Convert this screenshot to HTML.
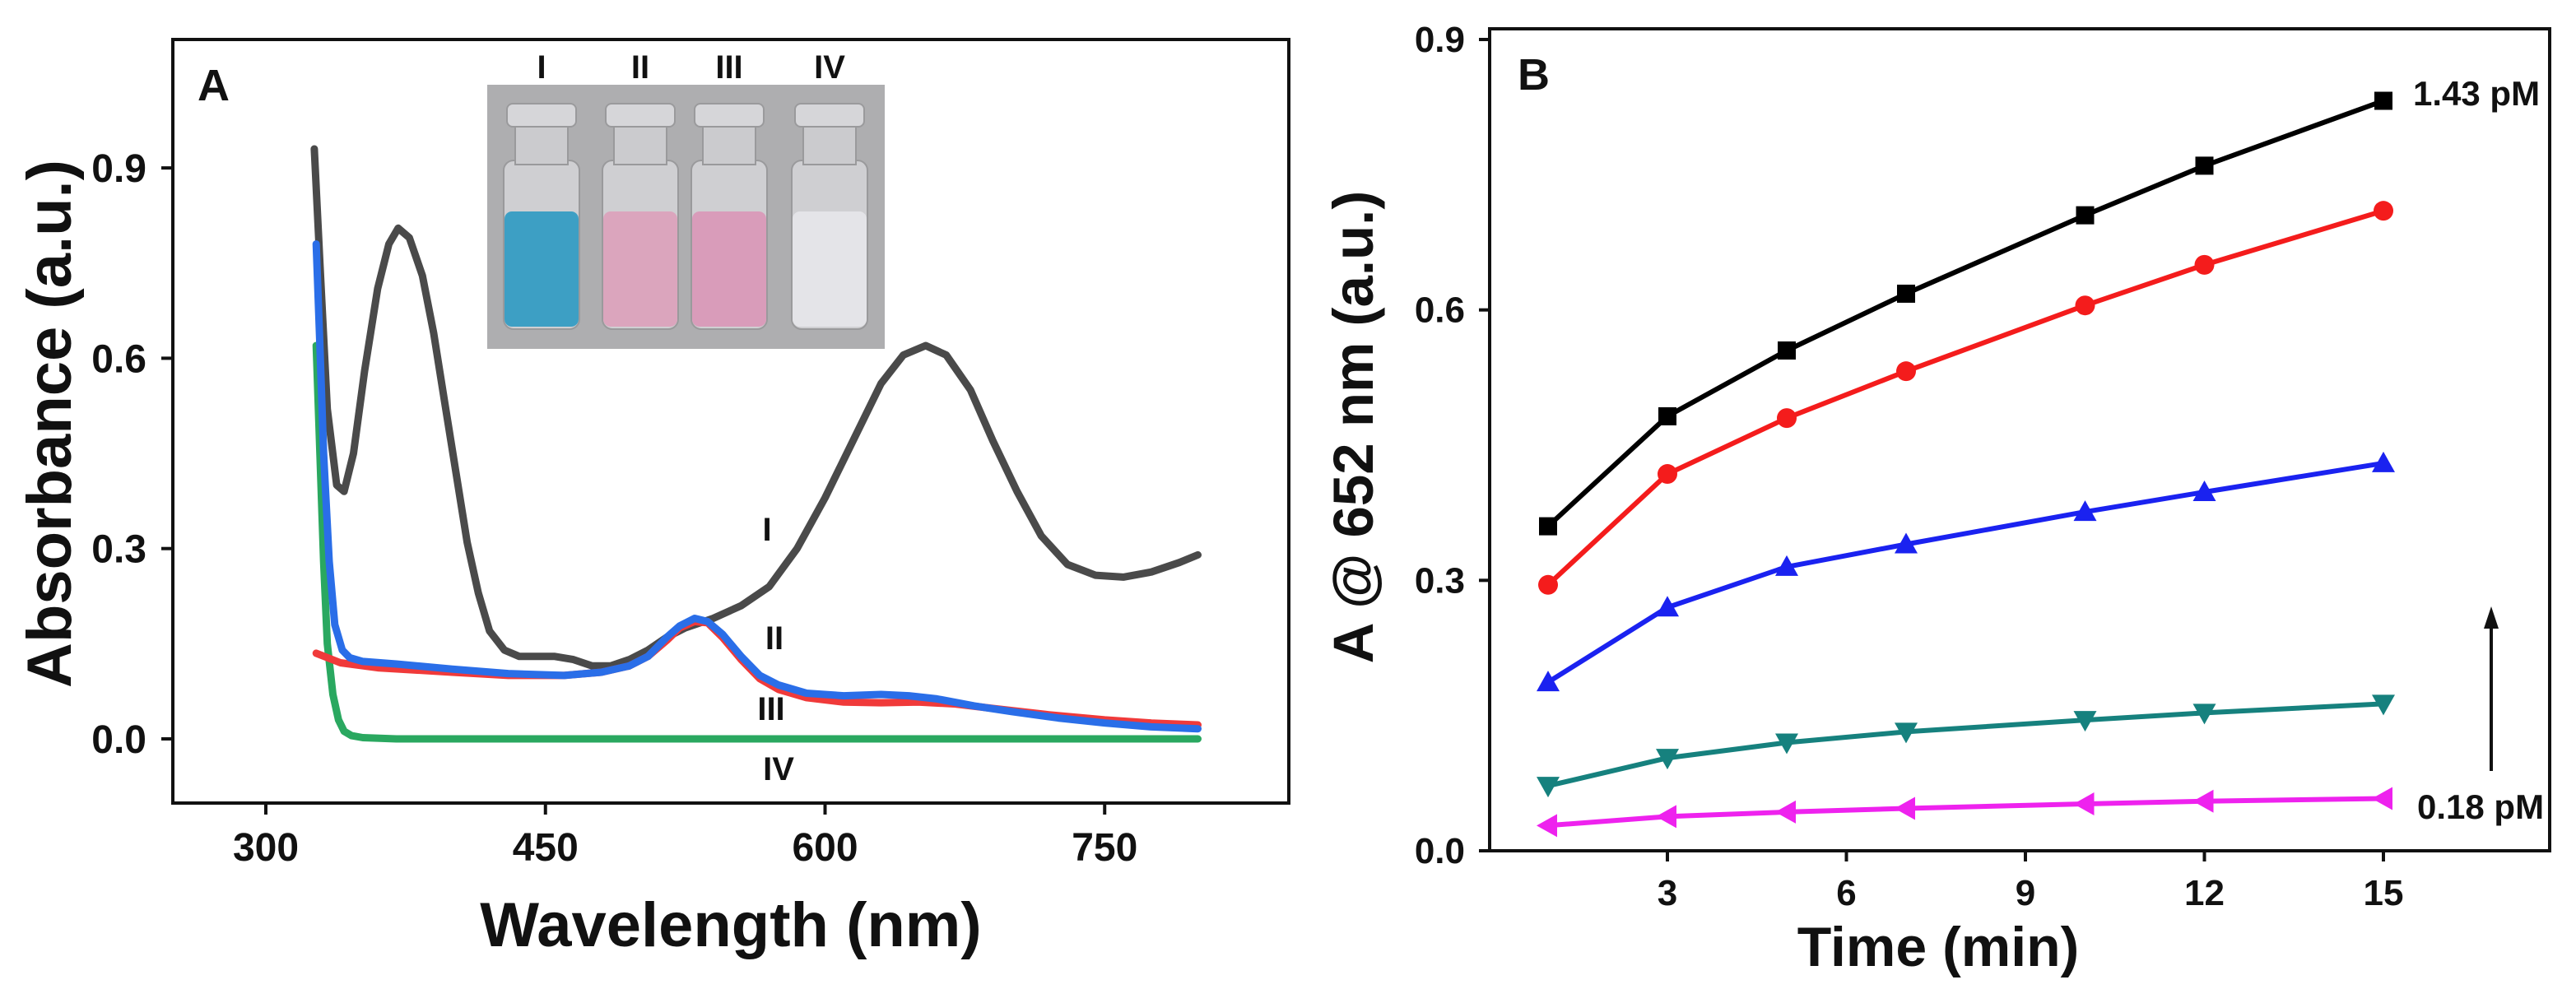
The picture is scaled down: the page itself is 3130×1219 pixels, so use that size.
<!DOCTYPE html>
<html><head><meta charset="utf-8"><style>
html,body{margin:0;padding:0;background:#fff;overflow:hidden}
svg{display:block}
text{font-family:"Liberation Sans",sans-serif;font-weight:bold;fill:#111}
</style></head><body>
<svg id="fig" width="3130" height="1219" viewBox="0 0 3130 1219" xmlns="http://www.w3.org/2000/svg">
<rect width="3130" height="1219" fill="#fff"/>
<g id="pa"></g>
<g id="pb"></g>
</svg>
<script>
// Panel A data
const aTicksX = [300, 450, 600, 750];
const aTicksY = [0.0, 0.3, 0.6, 0.9];
const wlI = [326,329,333,338,342,347,353,360,366,371,377,384,390,396,402,408,414,420,428,436,445,455,465,475,485,495,505,515,525,540,555,570,585,600,615,630,642,654,665,678,690,703,716,730,745,760,775,790,800];
const absI = [0.93,0.75,0.52,0.40,0.39,0.45,0.58,0.71,0.78,0.805,0.79,0.73,0.64,0.53,0.42,0.31,0.23,0.17,0.14,0.13,0.13,0.13,0.125,0.115,0.115,0.125,0.14,0.16,0.175,0.19,0.21,0.24,0.30,0.38,0.47,0.56,0.605,0.62,0.605,0.55,0.47,0.39,0.32,0.275,0.258,0.255,0.263,0.278,0.29];
const wlII = [327,329,331,334,337,341,345,352,370,400,430,460,480,495,505,515,522,530,537,545,555,565,575,590,610,630,645,660,680,700,725,750,775,800];
const absII = [0.78,0.62,0.45,0.28,0.18,0.14,0.128,0.122,0.118,0.11,0.103,0.10,0.105,0.115,0.13,0.16,0.178,0.19,0.185,0.165,0.13,0.10,0.085,0.072,0.068,0.07,0.068,0.063,0.052,0.043,0.033,0.025,0.019,0.016];
const wlIII = [327,340,360,400,430,460,480,495,505,515,522,530,537,545,555,565,575,590,610,630,650,670,690,720,750,775,800];
const absIII = [0.135,0.12,0.112,0.105,0.10,0.10,0.105,0.115,0.13,0.155,0.175,0.185,0.183,0.16,0.125,0.095,0.078,0.065,0.058,0.057,0.058,0.055,0.048,0.038,0.03,0.025,0.022];
const wlIV = [327,329,331,333,336,339,342,346,352,370,450,600,800];
const absIV = [0.62,0.45,0.28,0.15,0.07,0.03,0.012,0.005,0.002,0.0,0.0,0.0,0.0];

// Panel B data
const timeMin = [1, 3, 5, 7, 10, 12, 15];
const bTicksX = [3, 6, 9, 12, 15];
const bTicksY = [0.0, 0.3, 0.6, 0.9];
const s143 = [0.36, 0.482, 0.555, 0.618, 0.705, 0.76, 0.832];
const sRed = [0.295, 0.418, 0.48, 0.532, 0.605, 0.65, 0.71];
const sBlue = [0.187, 0.27, 0.315, 0.34, 0.376, 0.398, 0.43];
const sTeal = [0.072, 0.103, 0.12, 0.132, 0.145, 0.153, 0.163];
const s018 = [0.028, 0.038, 0.043, 0.047, 0.052, 0.055, 0.058];

const NS = "http://www.w3.org/2000/svg";
function mk(parent, tag, attrs, txt){
  const e = document.createElementNS(NS, tag);
  for (const k in attrs) e.setAttribute(k, attrs[k]);
  if (txt !== undefined) e.textContent = txt;
  parent.appendChild(e); return e;
}

// ---------- Panel A ----------
const pa = document.getElementById('pa');
const aL=210,aT=48,aR=1566,aB=976;
const ax = v => 323 + (v-300)*2.265;
const ay = v => 898 - v*231.3/0.3;

function aLine(xs, ys, color, name){
  let d = '';
  xs.forEach((x,i)=>{ d += (i?'L':'M') + ax(x).toFixed(1) + ',' + ay(ys[i]).toFixed(1); });
  const p = mk(pa,'path',{d:d,fill:'none',stroke:color,'stroke-width':9,'stroke-linejoin':'round','stroke-linecap':'round'});
  
  
}
aLine(wlI, absI, '#4a4a4a', 'curve-i');
aLine(wlIV, absIV, '#2aa860', 'curve-iv');
aLine(wlIII, absIII, '#f03a3a', 'curve-iii');
aLine(wlII, absII, '#2a6ee8', 'curve-ii');

let fr = mk(pa,'rect',{x:aL,y:aT,width:aR-aL,height:aB-aT,fill:'none',stroke:'#111','stroke-width':4});
 
aTicksX.forEach(v=>{
  mk(pa,'line',{x1:ax(v),x2:ax(v),y1:aB,y2:aB+14,stroke:'#111','stroke-width':4});
  const t = mk(pa,'text',{x:ax(v),y:1046,'font-size':48,'text-anchor':'middle'},String(v));
   
});
aTicksY.forEach(v=>{
  mk(pa,'line',{x1:aL-14,x2:aL,y1:ay(v),y2:ay(v),stroke:'#111','stroke-width':4});
  const t = mk(pa,'text',{x:178,y:ay(v)+17,'font-size':48,'text-anchor':'end'},v.toFixed(1));
   
});
let t;
t = mk(pa,'text',{x:888,y:1150,'font-size':76,'text-anchor':'middle'},'Wavelength (nm)');
 
t = mk(pa,'text',{x:0,y:0,'font-size':76,'text-anchor':'middle',transform:'translate(86,515) rotate(-90)'},'Absorbance (a.u.)');
 
t = mk(pa,'text',{x:240,y:122,'font-size':54},'A');
 
[['I',932,657],['II',941,789],['III',937,875],['IV',946,948]].forEach(c=>{
  const e = mk(pa,'text',{x:c[1],y:c[2],'text-anchor':'middle','font-size':40},c[0]);
   
});

// inset photo
const ins = mk(pa,'g',{});
 
mk(ins,'rect',{x:592,y:103,width:483,height:321,fill:'#aeaeb0'});
const vials = [[658,'#3d9fc4','I'],[778,'#dba5bd','II'],[886,'#d99cba','III'],[1008,'#e4e4e8','IV']];
vials.forEach(v=>{
  const cx=v[0];
  const g = mk(ins,'g',{});
   
  mk(g,'rect',{x:cx-46,y:195,width:92,height:205,rx:12,fill:'#cfcfd2',stroke:'#9a9a9c','stroke-width':2});
  mk(g,'rect',{x:cx-32,y:148,width:64,height:52,fill:'#cbcbce',stroke:'#9a9a9c','stroke-width':2});
  mk(g,'rect',{x:cx-42,y:126,width:84,height:28,rx:7,fill:'#d6d6d9',stroke:'#9a9a9c','stroke-width':2});
  mk(g,'rect',{x:cx-45,y:257,width:90,height:140,rx:9,fill:v[1]});
  const lb = mk(pa,'text',{x:cx,y:95,'text-anchor':'middle','font-size':40},v[2]);
   
});

// ---------- Panel B ----------
const pb = document.getElementById('pb');
const bL=1810,bT=35,bR=3098,bB=1034;
const bx = v => 2026 + (v-3)*72.5;
const by = v => 1034 - v*986/0.9;
fr = mk(pb,'rect',{x:bL,y:bT,width:bR-bL,height:bB-bT,fill:'none',stroke:'#111','stroke-width':4});
 
bTicksX.forEach(v=>{
  mk(pb,'line',{x1:bx(v),x2:bx(v),y1:bB,y2:bB+13,stroke:'#111','stroke-width':4});
  const e = mk(pb,'text',{x:bx(v),y:1100,'font-size':44,'text-anchor':'middle'},String(v));
   
});
bTicksY.forEach(v=>{
  mk(pb,'line',{x1:bL-13,x2:bL,y1:by(v),y2:by(v),stroke:'#111','stroke-width':4});
  const e = mk(pb,'text',{x:1780,y:by(v)+15,'font-size':44,'text-anchor':'end'},v.toFixed(1));
   
});
t = mk(pb,'text',{x:2355,y:1174,'font-size':68,'text-anchor':'middle'},'Time (min)');
 
t = mk(pb,'text',{x:0,y:0,'font-size':69,'text-anchor':'middle',transform:'translate(1668,519) rotate(-90)'},'A @ 652 nm (a.u.)');
 
t = mk(pb,'text',{x:1844,y:109,'font-size':54},'B');
 

function marker(g, shape, x, y, c){
  const r=11;
  if (shape==='sq') return mk(g,'rect',{x:x-r,y:y-r,width:2*r,height:2*r,fill:c});
  if (shape==='ci') return mk(g,'circle',{cx:x,cy:y,r:r+1,fill:c});
  if (shape==='up') return mk(g,'polygon',{points:`${x},${y-r-3} ${x-r-3},${y+r} ${x+r+3},${y+r}`,fill:c});
  if (shape==='dn') return mk(g,'polygon',{points:`${x},${y+r+3} ${x-r-3},${y-r} ${x+r+3},${y-r}`,fill:c});
  return mk(g,'polygon',{points:`${x-r-3},${y} ${x+r},${y-r-3} ${x+r},${y+r+3}`,fill:c});
}
function bSeries(vals, color, shape, name){
  const g = mk(pb,'g',{});
  
  
  let d='';
  timeMin.forEach((x,i)=>{ d += (i?'L':'M') + bx(x).toFixed(1) + ',' + by(vals[i]).toFixed(1); });
  mk(g,'path',{d:d,fill:'none',stroke:color,'stroke-width':6,'stroke-linejoin':'round'});
  timeMin.forEach((x,i)=>{
    const m = marker(g, shape, bx(x), by(vals[i]), color);
    
    
  });
}
bSeries(s018, '#ee22ee', 'lt', 'series-0-18-pm');
bSeries(sTeal, '#16817e', 'dn', 'series-teal');
bSeries(sBlue, '#1a22f0', 'up', 'series-blue');
bSeries(sRed, '#f41c1c', 'ci', 'series-red');
bSeries(s143, '#000000', 'sq', 'series-1-43-pm');

t = mk(pb,'text',{x:2932,y:128,'font-size':42},'1.43 pM');
 
t = mk(pb,'text',{x:2937,y:995,'font-size':42},'0.18 pM');
 
const ar = mk(pb,'g',{});
 
mk(ar,'line',{x1:3027,x2:3027,y1:937,y2:760,stroke:'#111','stroke-width':4});
mk(ar,'polygon',{points:'3027,737 3018,764 3036,764',fill:'#111'});
</script>
</body></html>
